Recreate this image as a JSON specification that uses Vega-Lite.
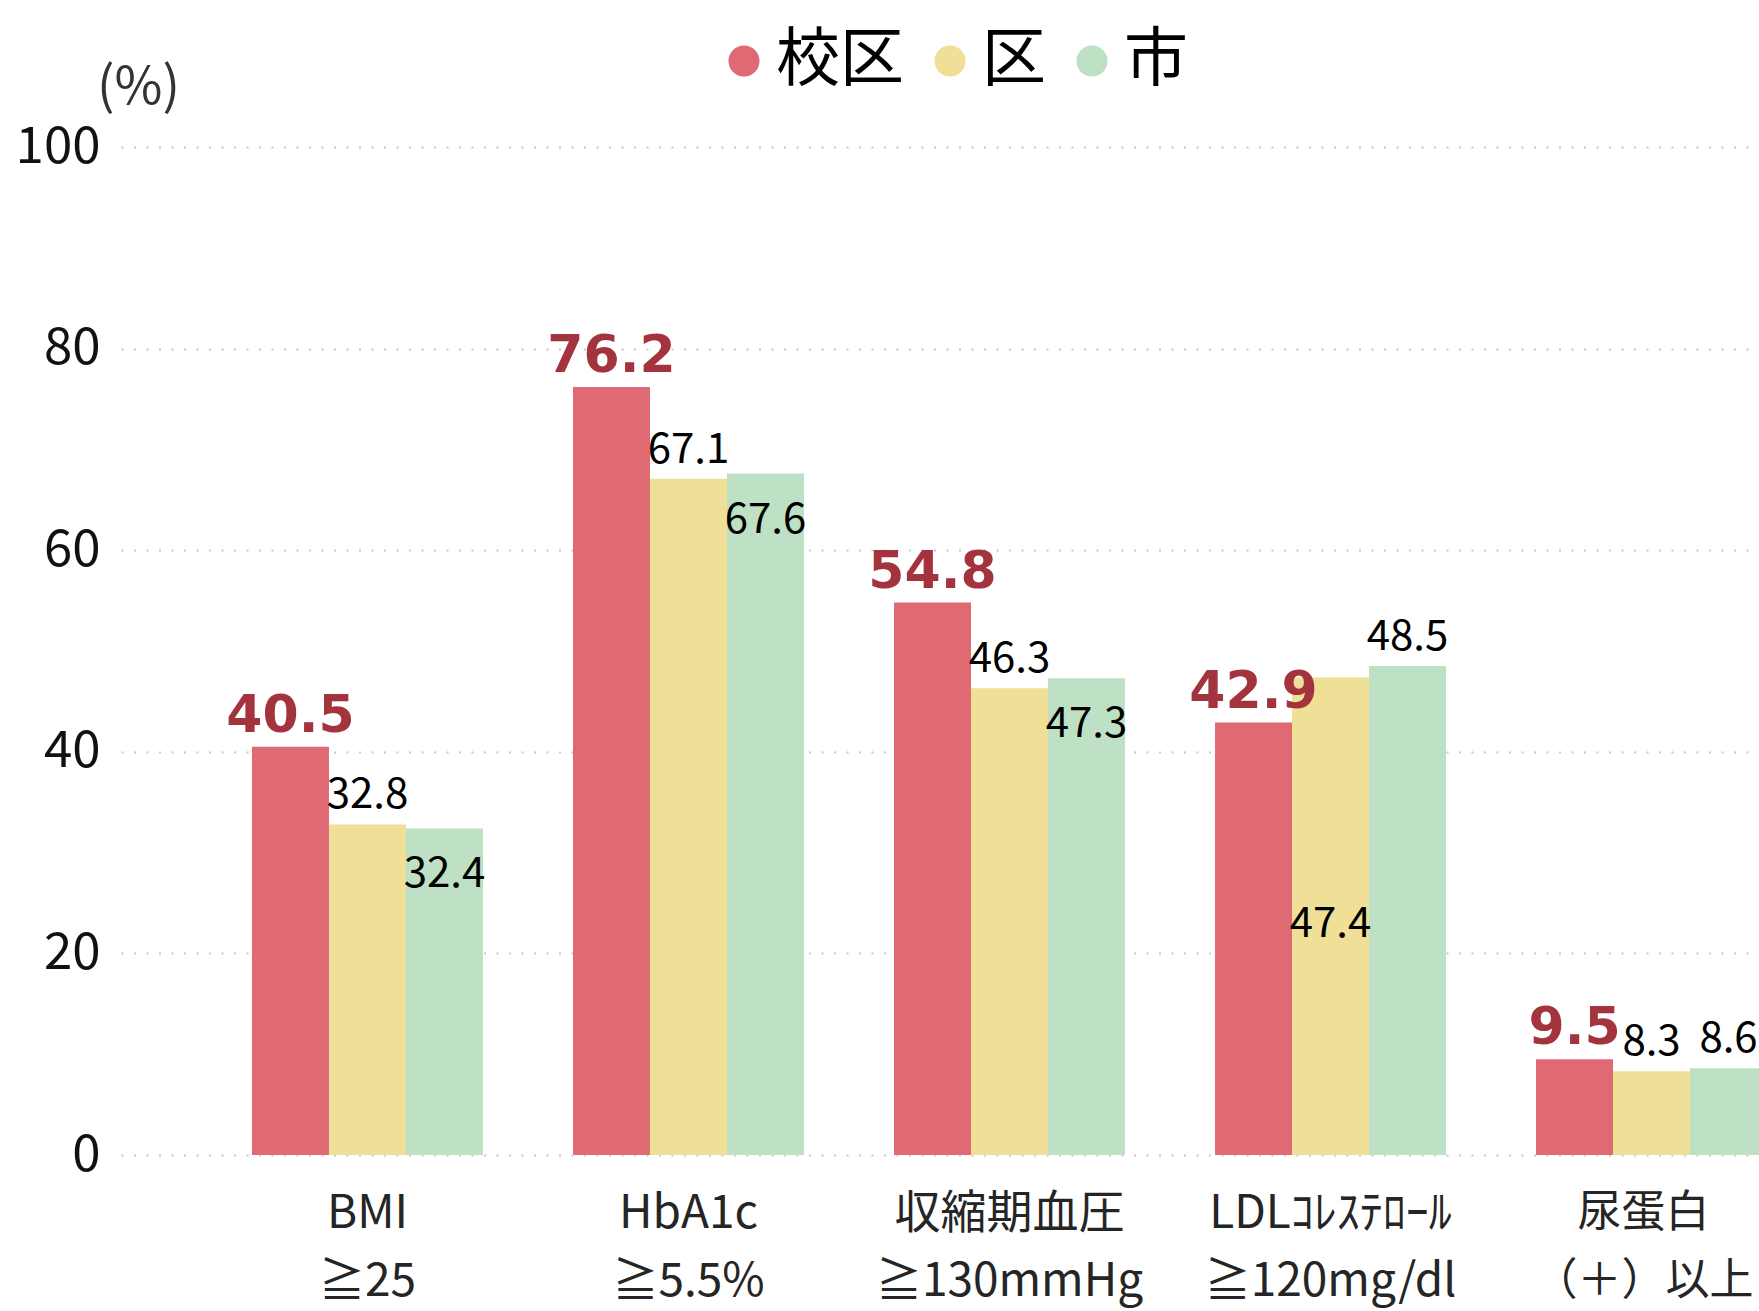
{
  "$schema": "https://vega.github.io/schema/vega-lite/v6.json",
  "width": 1638,
  "height": 1008,
  "autosize": {"type": "none"},
  "padding": {"left": 121, "top": 147, "right": 0, "bottom": 156},
  "background": "white",
  "config": {
    "view": {"stroke": null},
    "font": "Noto Sans CJK JP"
  },
  "data": {
    "values": [
      {"item": "BMI\n≧25", "series": "校区", "value": 40.5},
      {"item": "BMI\n≧25", "series": "区", "value": 32.8},
      {"item": "BMI\n≧25", "series": "市", "value": 32.4},
      {"item": "HbA1c\n≧5.5%", "series": "校区", "value": 76.2},
      {"item": "HbA1c\n≧5.5%", "series": "区", "value": 67.1},
      {"item": "HbA1c\n≧5.5%", "series": "市", "value": 67.6},
      {"item": "収縮期血圧\n≧130mmHg", "series": "校区", "value": 54.8},
      {"item": "収縮期血圧\n≧130mmHg", "series": "区", "value": 46.3},
      {"item": "収縮期血圧\n≧130mmHg", "series": "市", "value": 47.3},
      {"item": "LDLｺﾚｽﾃﾛｰﾙ\n≧120mg/dl", "series": "校区", "value": 42.9},
      {"item": "LDLｺﾚｽﾃﾛｰﾙ\n≧120mg/dl", "series": "区", "value": 47.4},
      {"item": "LDLｺﾚｽﾃﾛｰﾙ\n≧120mg/dl", "series": "市", "value": 48.5},
      {"item": "尿蛋白\n（＋）以上", "series": "校区", "value": 9.5},
      {"item": "尿蛋白\n（＋）以上", "series": "区", "value": 8.3},
      {"item": "尿蛋白\n（＋）以上", "series": "市", "value": 8.6}
    ]
  },
  "encoding": {
    "x": {
      "field": "item",
      "type": "nominal",
      "sort": null,
      "scale": {"type": "band", "range": [0, 1777], "paddingInner": 0.2804, "paddingOuter": 0.408},
      "axis": {
        "title": null,
        "domain": false,
        "ticks": false,
        "labelAngle": 0,
        "labelFont": "Noto Sans CJK JP",
        "labelFontSize": {"condition": {"test": "indexof(datum.value, '尿蛋白') == 0", "value": 44}, "value": 46},
        "labelOffset": {"condition": {"test": "indexof(datum.value, '尿蛋白') == 0", "value": -8}, "value": 0},
        "labelColor": "#252525",
        "labelPadding": 36,
        "labelLineHeight": 68,
        "labelLimit": 0,
        "labelOverlap": false,
        "labelBaseline": "top",
        "labelExpr": "split(datum.label, '\\n')"
      }
    },
    "xOffset": {
      "field": "series",
      "type": "nominal",
      "scale": {"domain": ["校区", "区", "市"], "paddingInner": 0, "paddingOuter": 0}
    },
    "y": {
      "field": "value",
      "type": "quantitative",
      "scale": {"domain": [0, 100], "nice": false},
      "axis": {
        "values": [0, 20, 40, 60, 80, 100],
        "title": "(%)",
        "titleAngle": 0,
        "titleFont": "Noto Sans CJK JP",
        "titleFontSize": 52,
        "titleFontWeight": "normal",
        "titleColor": "#333333",
        "titleAlign": "center",
        "titleBaseline": "middle",
        "titleX": 17,
        "titleY": -60,
        "domain": false,
        "ticks": false,
        "labelFont": "Noto Sans CJK JP",
        "labelFontSize": 51,
        "labelColor": "#111111",
        "labelPadding": 21,
        "grid": true,
        "gridColor": "#c8c8c8",
        "gridWidth": 2,
        "gridDash": [2, 10.5]
      }
    }
  },
  "layer": [
    {
      "mark": {"type": "bar", "clip": true},
      "encoding": {
        "color": {
          "field": "series",
          "type": "nominal",
          "scale": {"domain": ["校区", "区", "市"], "range": ["#DF6A73", "#F0E097", "#BEE0C4"]},
          "legend": {
            "title": null,
            "orient": "none",
            "direction": "horizontal",
            "legendX": 591,
            "legendY": -118,
            "padding": 0,
            "symbolType": "circle",
            "symbolSize": 962,
            "symbolStrokeWidth": 0,
            "symbolOpacity": 1,
            "labelFont": "Noto Sans CJK JP",
            "labelFontSize": 64,
            "labelColor": "#000000",
            "labelOffset": 0,
            "columnPadding": 14
          }
        }
      }
    },
    {
      "transform": [{"filter": "datum.series == '校区'"}],
      "mark": {"type": "text", "font": "DejaVu Sans", "fontWeight": "bold", "fontSize": 52, "color": "#A3343E", "baseline": "alphabetic", "dy": -15},
      "encoding": {"text": {"field": "value", "type": "quantitative", "format": ".1f"}}
    },
    {
      "transform": [{"filter": "datum.series != '校区' && !(datum.series == '市' && (indexof(datum.item, 'BMI') == 0 || indexof(datum.item, 'HbA1c') == 0 || indexof(datum.item, '収縮') == 0)) && !(datum.series == '区' && indexof(datum.item, 'LDL') == 0)"}],
      "mark": {"type": "text", "font": "Noto Sans CJK JP", "fontSize": 42, "color": "#000000", "baseline": "alphabetic", "dy": -16},
      "encoding": {"text": {"field": "value", "type": "quantitative", "format": ".1f"}}
    },
    {
      "transform": [{"filter": "datum.series == '市' && (indexof(datum.item, 'BMI') == 0 || indexof(datum.item, 'HbA1c') == 0 || indexof(datum.item, '収縮') == 0)"}],
      "mark": {"type": "text", "font": "Noto Sans CJK JP", "fontSize": 42, "color": "#000000", "baseline": "alphabetic", "dy": 59},
      "encoding": {"text": {"field": "value", "type": "quantitative", "format": ".1f"}}
    },
    {
      "transform": [{"filter": "datum.series == '区' && indexof(datum.item, 'LDL') == 0"}],
      "mark": {"type": "text", "font": "Noto Sans CJK JP", "fontSize": 42, "color": "#000000", "baseline": "alphabetic", "dy": 260},
      "encoding": {"text": {"field": "value", "type": "quantitative", "format": ".1f"}}
    }
  ]
}
